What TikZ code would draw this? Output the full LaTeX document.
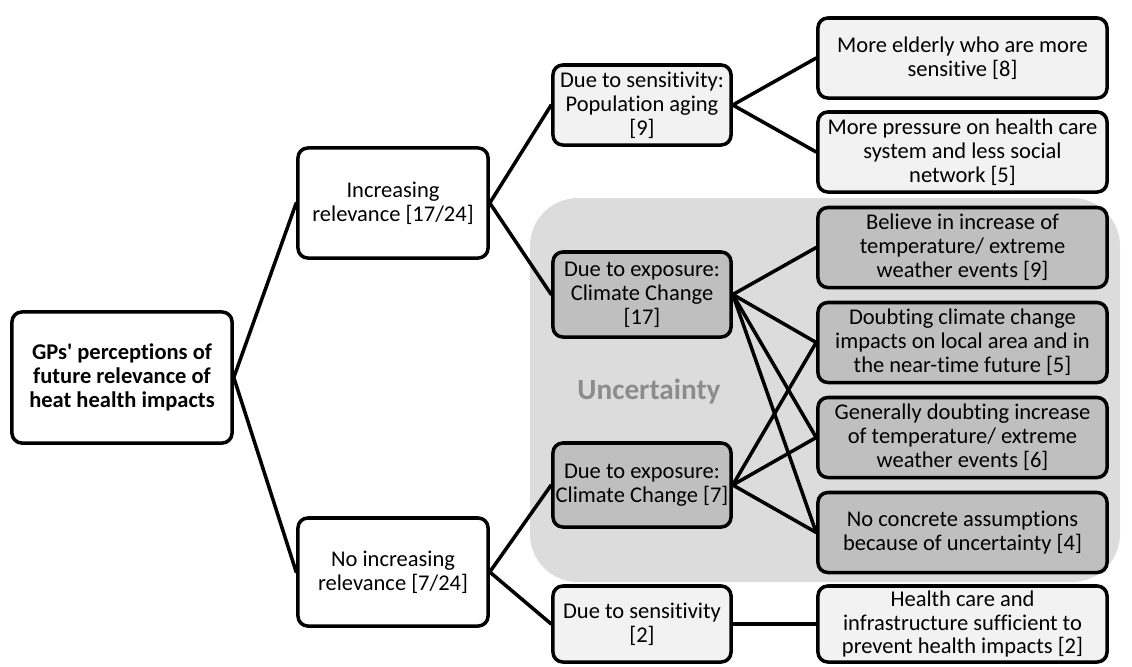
\documentclass[tikz,border=0pt]{standalone}
\usepackage{fontspec}
\setmainfont{Carlito}[Ligatures={NoCommon}]
\definecolor{boxlight}{HTML}{F2F2F2}
\definecolor{boxdark}{HTML}{BFBFBF}
\definecolor{uncarea}{HTML}{DCDCDC}
\definecolor{unctext}{HTML}{8C8C8C}
\tikzset{
  box/.style={draw,line width=2.5pt,rounded corners=7pt,align=center,inner sep=0pt,
    font=\fontsize{16}{17}\selectfont},
  plainbox/.style={box,fill=white},
  lightbox/.style={box,fill=boxlight},
  darkbox/.style={box,fill=boxdark},
  midbox/.style={minimum width=4.45cm},
  rightbox/.style={minimum width=7.225cm,minimum height=2cm},
  link/.style={line width=2.5pt}
}
\begin{document}
\begin{tikzpicture}[x=0.025cm,y=-0.025cm,line join=round,line cap=round]
  \useasboundingbox (0,0) rectangle (1132,666);
  % uncertainty area
  \fill[uncarea,rounded corners=1.2cm] (530,198) rectangle (1120,582);
  \node[font=\fontsize{20.8}{22}\selectfont\bfseries,text=unctext] (unc) at (649,392) {Uncertainty};
  % root and first level
  \node[plainbox,minimum width=5.5cm,minimum height=3.275cm] (gp) at (122,377.5)
    {\textbf{GPs\textquotesingle{} perceptions of}\\\textbf{future relevance of}\\\textbf{heat health impacts}};
  \node[plainbox,minimum width=4.75cm,minimum height=2.75cm] (inc) at (393,203) {Increasing\\relevance [17/24]};
  \node[plainbox,minimum width=4.75cm,minimum height=2.7cm] (noinc) at (393,572) {No increasing\\relevance [7/24]};
  % second level
  \node[lightbox,midbox,minimum height=2cm] (aging) at (642,105) {Due to sensitivity:\\Population aging\\{[9]}};
  \node[darkbox,midbox,minimum height=2.125cm] (exphi) at (642,294.5) {Due to exposure:\\Climate Change\\{[17]}};
  \node[darkbox,midbox,minimum height=2.1cm] (explo) at (642,485) {Due to exposure:\\Climate Change [7]};
  \node[lightbox,midbox,minimum height=1.9cm] (sens) at (642,624) {Due to sensitivity\\{[2]}};
  % third level
  \node[lightbox,rightbox] (elderly) at (962.5,58) {More elderly who are more\\sensitive [8]};
  \node[lightbox,rightbox] (pressure) at (962.5,152) {More pressure on health care\\system and less social\\network [5]};
  \node[darkbox,rightbox] (believe) at (962.5,247.5) {Believe in increase of\\temperature/ extreme\\weather events [9]};
  \node[darkbox,rightbox] (doublocal) at (962.5,342.5) {Doubting climate change\\impacts on local area and in\\the near-time future [5]};
  \node[darkbox,rightbox] (doubgen) at (962.5,437.5) {Generally doubting increase\\of temperature/ extreme\\weather events [6]};
  \node[darkbox,rightbox] (noassump) at (962.5,532.5) {No concrete assumptions\\because of uncertainty [4]};
  \node[lightbox,rightbox,minimum height=1.9cm] (infra) at (962.5,624) {Health care and\\infrastructure sufficient to\\prevent health impacts [2]};
  % connectors
  \draw[link] (inc.west) -- (gp.east) -- (noinc.west);
  \draw[link] (aging.west) -- (inc.east) -- (exphi.west);
  \draw[link] (explo.west) -- (noinc.east) -- (sens.west);
  \draw[link] (elderly.west) -- (aging.east) -- (pressure.west);
  \foreach \t in {believe,doublocal,doubgen,noassump}
    \draw[link] (exphi.east) -- (\t.west);
  \foreach \t in {doublocal,doubgen,noassump}
    \draw[link] (explo.east) -- (\t.west);
  \draw[link] (sens.east) -- (infra.west);
\end{tikzpicture}
\end{document}
